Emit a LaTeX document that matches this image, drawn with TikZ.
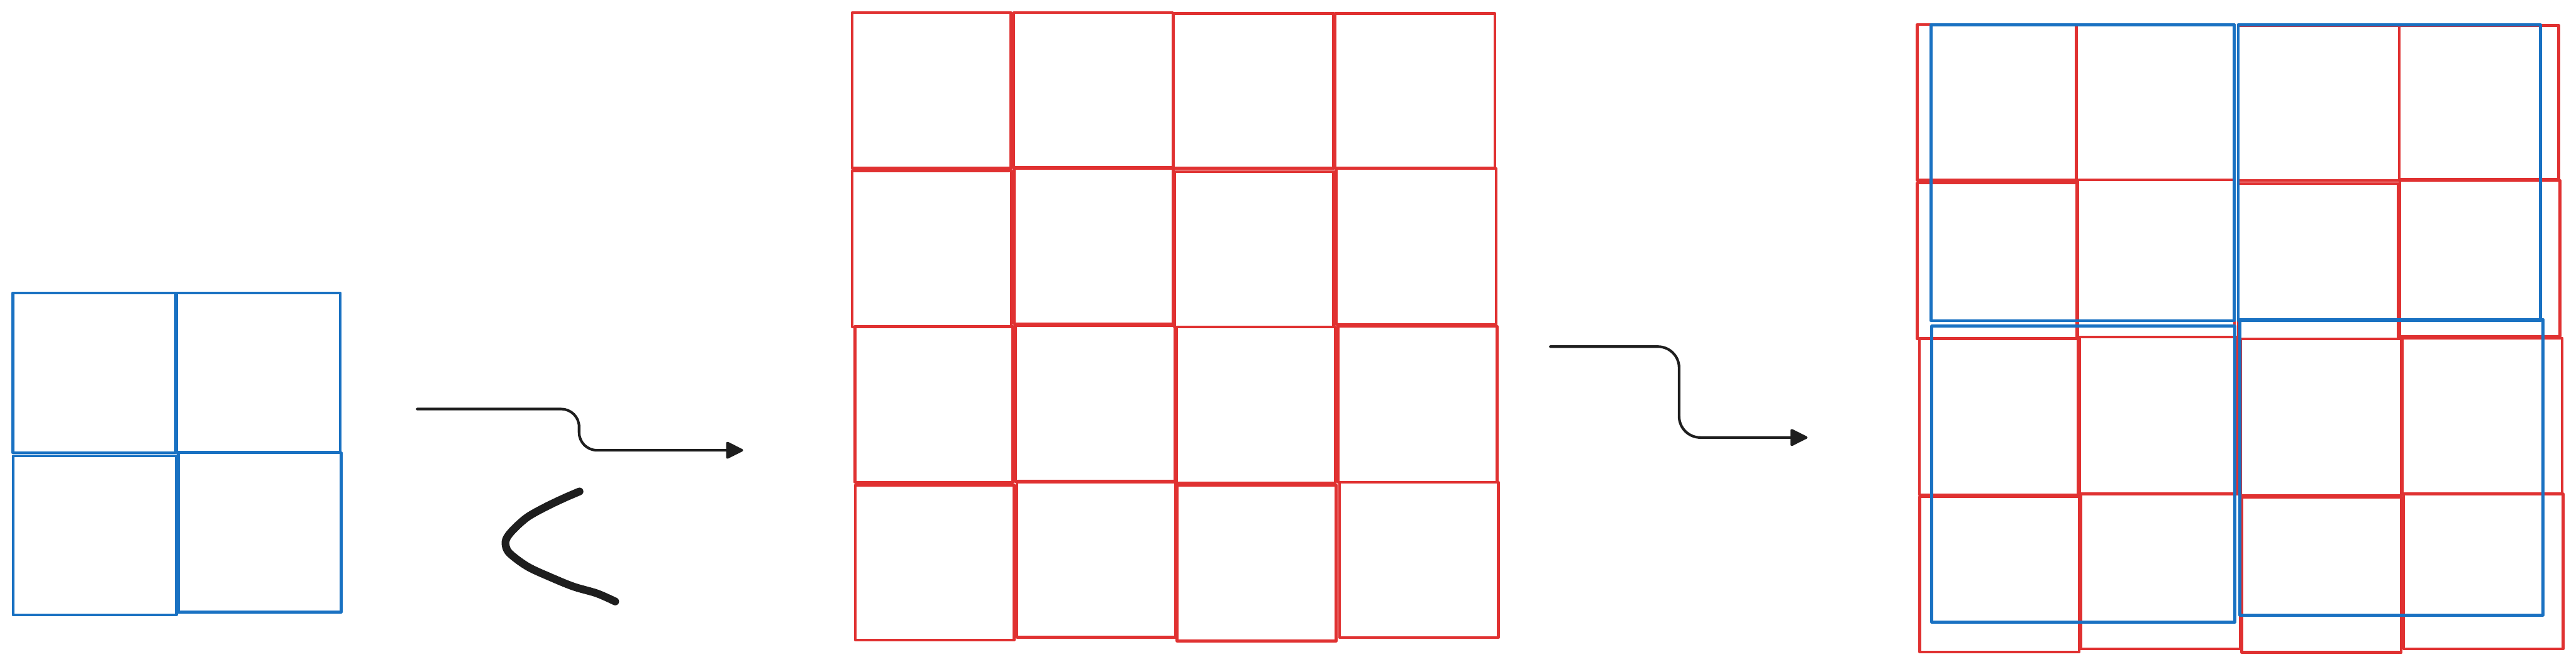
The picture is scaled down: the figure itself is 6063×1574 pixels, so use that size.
\documentclass[tikz,border=0pt]{standalone}
\usetikzlibrary{arrows.meta}
\definecolor{exblue}{HTML}{1971C2}
\definecolor{exred}{HTML}{E03131}
\definecolor{exink}{HTML}{1E1E1E}
\begin{document}
\begin{tikzpicture}[x=0.01cm,y=-0.01cm,
  leftbox/.style={draw=exblue,line width=1.9pt,line join=round},
  redbox/.style={draw=exred,line width=1.85pt,line join=round},
  bigblue/.style={draw=exblue,line width=2pt,line join=round},
  elbow/.style={draw=exink,line width=1.75pt,line cap=round,
     -{Triangle[length=12.5pt,width=12pt,round]}},
  squig/.style={draw=exink,line width=5.2pt,line cap=round,line join=round}]
\useasboundingbox (0,0) rectangle (6063,1574);
% left blue 2x2 grid
\draw[leftbox] (30,690) rectangle (413,1066);
\draw[leftbox] (416,690) rectangle (801,1065);
\draw[leftbox] (31,1073) rectangle (415,1448);
\draw[leftbox] (420,1066) rectangle (803,1441);
% middle red 4x4 grid
\begin{scope}[shift={(1950,0)},xscale=1.0204]
\draw[redbox] (55,30) rectangle (421,396);
\draw[redbox] (427,30) rectangle (794,394);
\draw[redbox] (796,32) rectangle (1165,396);
\draw[redbox] (1169,32) rectangle (1537,395);
\draw[redbox] (55,402) rectangle (422,770);
\draw[redbox] (428,396) rectangle (795,762);
\draw[redbox] (798,404) rectangle (1165,770);
\draw[redbox] (1171,397) rectangle (1540,764);
\draw[redbox] (61,768) rectangle (425,1135);
\draw[redbox] (431,766) rectangle (799,1133);
\draw[redbox] (803,770) rectangle (1169,1137);
\draw[redbox] (1175,768) rectangle (1542,1135);
\draw[redbox] (62,1142) rectangle (428,1507);
\draw[redbox] (435,1135) rectangle (801,1500);
\draw[redbox] (804,1142) rectangle (1171,1509);
\draw[redbox] (1179,1135) rectangle (1545,1501);
\end{scope}
% right overlay grid
\begin{scope}[shift={(4480,0)},xscale=1.0101]
\draw[redbox] (32,58) rectangle (402,424);
\draw[redbox] (404,58) rectangle (771,423);
\draw[redbox] (780,60) rectangle (1155,425);
\draw[redbox] (1155,60) rectangle (1527,422);
\draw[redbox] (32,431) rectangle (404,798);
\draw[redbox] (406,423) rectangle (771,793);
\draw[redbox] (780,432) rectangle (1153,798);
\draw[redbox] (1157,425) rectangle (1530,792);
\draw[redbox] (37,797) rectangle (407,1165);
\draw[redbox] (410,793) rectangle (778,1162);
\draw[redbox] (786,798) rectangle (1160,1166);
\draw[redbox] (1162,796) rectangle (1535,1163);
\draw[redbox] (38,1169) rectangle (409,1535);
\draw[redbox] (413,1163) rectangle (785,1528);
\draw[redbox] (788,1170) rectangle (1160,1536);
\draw[redbox] (1166,1163) rectangle (1537,1528);
\draw[bigblue] (64,58) rectangle (771,755);
\draw[bigblue] (780,58) rectangle (1484,755);
\draw[bigblue] (66,768) rectangle (772,1465);
\draw[bigblue] (784,752) rectangle (1490,1448);
\end{scope}
% arrows
\coordinate (a1s) at (982,963);
\coordinate (a1e) at (1749,1060);
\coordinate (a2s) at (3649,816);
\coordinate (a2e) at (4254,1030);
\draw[elbow,rounded corners=0.42cm] (a1s) -- (1363,963) -- (1363,1060) -- (a1e);
\draw[elbow,rounded corners=0.5cm] (a2s) -- (3952,816) -- (3952,1030) -- (a2e);
% hand-drawn stroke
\draw[squig] plot[smooth,tension=0.55] coordinates {(1364,1157) (1329,1172) (1285,1193) (1242,1217) (1210,1245) (1193,1266) (1190,1283) (1200,1303) (1242,1334) (1296,1359) (1350,1381) (1405,1397) (1448,1416)};
\end{tikzpicture}
\end{document}
